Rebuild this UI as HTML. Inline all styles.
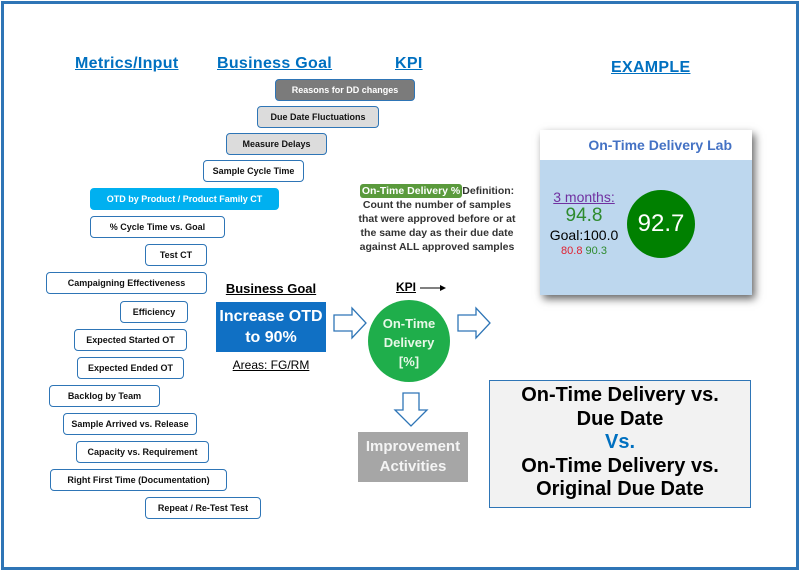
<!DOCTYPE html>
<html><head><style>
body{margin:0;width:800px;height:571px;position:relative;background:#fff;font-family:"Liberation Sans",Arial,sans-serif;overflow:hidden}
#frame{position:absolute;left:1px;top:1px;width:792px;height:563px;border:3px solid #2e75b6}
.h{position:absolute;color:#0070c0;font-weight:bold;font-size:16px;text-decoration:underline;letter-spacing:0.3px}
.b{position:absolute;box-sizing:border-box;border:1.5px solid #2e75b6;border-radius:4px;background:#fff;font-size:9px;font-weight:bold;display:flex;align-items:center;justify-content:center;color:#111;white-space:nowrap}
.a{position:absolute}
</style></head><body>
<div id="frame"></div>
<div class="h" style="left:75px;top:55px">Metrics/Input</div>
<div class="h" style="left:217px;top:55px">Business Goal</div>
<div class="h" style="left:395px;top:55px">KPI</div>
<div class="h" style="left:611px;top:59px">EXAMPLE</div>

<div class="b" style="left:275px;top:79px;width:140px;height:22px;background:#7b7b7b;color:#fff">Reasons for DD changes</div>
<div class="b" style="left:257px;top:106px;width:122px;height:22px;background:#dcdcdc">Due Date Fluctuations</div>
<div class="b" style="left:226px;top:133px;width:101px;height:22px;background:#dcdcdc">Measure Delays</div>
<div class="b" style="left:203px;top:160px;width:101px;height:22px">Sample Cycle Time</div>
<div class="b" style="left:90px;top:188px;width:189px;height:22px;background:#00b0f0;color:#fff;border-color:#00b0f0">OTD by Product / Product Family CT</div>
<div class="b" style="left:90px;top:216px;width:135px;height:22px">% Cycle Time vs. Goal</div>
<div class="b" style="left:145px;top:244px;width:62px;height:22px">Test CT</div>
<div class="b" style="left:46px;top:272px;width:161px;height:22px">Campaigning Effectiveness</div>
<div class="b" style="left:120px;top:301px;width:68px;height:22px">Efficiency</div>
<div class="b" style="left:74px;top:329px;width:113px;height:22px">Expected Started OT</div>
<div class="b" style="left:77px;top:357px;width:107px;height:22px">Expected Ended OT</div>
<div class="b" style="left:49px;top:385px;width:111px;height:22px">Backlog by Team</div>
<div class="b" style="left:63px;top:413px;width:134px;height:22px">Sample Arrived vs. Release</div>
<div class="b" style="left:76px;top:441px;width:133px;height:22px">Capacity vs. Requirement</div>
<div class="b" style="left:50px;top:469px;width:177px;height:22px">Right First Time (Documentation)</div>
<div class="b" style="left:145px;top:497px;width:116px;height:22px">Repeat / Re-Test Test</div>

<div class="a" style="left:326px;top:184px;width:222px;text-align:center;font-size:10.5px;font-weight:bold;color:#333;line-height:14px">
<span style="background:#5a9a3c;color:#fff;padding:1px 2px;border-radius:3px">On-Time Delivery %</span>Definition:<br>Count the number of samples<br>that were approved before or at<br>the same day as their due date<br>against ALL approved samples</div>

<div class="a" style="left:216px;top:281px;width:110px;text-align:center;font-weight:bold;font-size:13px;text-decoration:underline">Business Goal</div>
<div class="a" style="left:216px;top:302px;width:110px;height:50px;background:#1070c4;color:#fff;font-weight:bold;font-size:16px;text-align:center;line-height:21px;display:flex;align-items:center;justify-content:center">Increase OTD<br>to 90%</div>
<div class="a" style="left:216px;top:358px;width:110px;text-align:center;font-size:12px;text-decoration:underline">Areas: FG/RM</div>
<div class="a" style="left:396px;top:280px;font-weight:bold;font-size:12px;text-decoration:underline">KPI</div>

<svg class="a" style="left:0;top:0" width="800" height="571">
<line x1="420" y1="288" x2="440" y2="288" stroke="#000" stroke-width="1"/><polygon points="440,285 446,288 440,291" fill="#000"/>
<polygon points="334,315 352,315 352,308 366,323 352,338 352,331 334,331" fill="#fff" stroke="#2e75b6" stroke-width="1.3"/>
<polygon points="458,315 476,315 476,308 490,323 476,338 476,331 458,331" fill="#fff" stroke="#2e75b6" stroke-width="1.3"/>
<polygon points="403,393 419,393 419,410 427,410 411,426 395,410 403,410" fill="#fff" stroke="#2e75b6" stroke-width="1.3"/>
<circle cx="409" cy="341" r="41" fill="#1fae4b"/>
</svg>
<div class="a" style="left:368px;top:314px;width:82px;text-align:center;color:#e8f8e8;font-weight:bold;font-size:13px;line-height:19px">On-Time<br>Delivery<br>[%]</div>
<div class="a" style="left:358px;top:432px;width:110px;height:50px;background:#a6a6a6;color:#f4f4f4;font-weight:bold;font-size:15px;text-align:center;line-height:20px;display:flex;align-items:center;justify-content:center">Improvement<br>Activities</div>

<div class="a" style="left:540px;top:130px;width:212px;height:165px;background:#bdd7ee;box-shadow:3px 4px 8px rgba(0,0,0,0.6)"></div>
<div class="a" style="left:540px;top:130px;width:212px;height:30px;background:#fff;color:#4472c4;font-weight:bold;font-size:14px;line-height:30px;text-align:right;box-sizing:border-box;padding-right:20px">On-Time Delivery Lab</div>
<div class="a" style="left:543px;top:188px;width:82px;text-align:center;line-height:18px">
<div style="color:#7030a0;font-size:14px;text-decoration:underline">3 months:</div>
<div style="color:#2e8b2e;font-size:19px;line-height:20px">94.8</div>
<div style="font-size:14px">Goal:100.0</div>
<div style="font-size:11px;line-height:14px"><span style="color:#e02030">80.8</span> <span style="color:#2e8b2e">90.3</span></div></div>
<div class="a" style="left:627px;top:190px;width:68px;height:68px;border-radius:50%;background:#008000;color:#fff;font-size:24px;line-height:68px;text-align:center">92.7</div>

<div class="a" style="left:489px;top:380px;width:262px;height:128px;box-sizing:border-box;border:1.5px solid #2e75b6;background:#f2f2f2;text-align:center;font-weight:bold;font-size:20px;line-height:23.5px;padding-top:3px">On-Time Delivery vs.<br>Due Date<br><span style="color:#0070c0">Vs.</span><br>On-Time Delivery vs.<br>Original Due Date</div>
</body></html>
